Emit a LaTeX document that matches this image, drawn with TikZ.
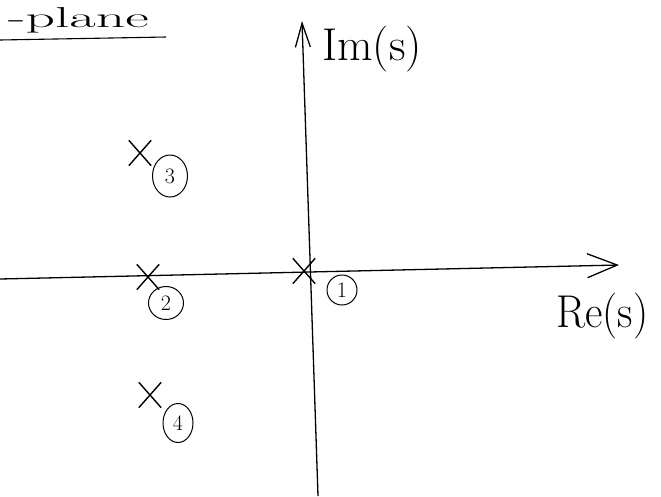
\documentclass[tikz,border=0pt]{standalone}
\usetikzlibrary{shapes.misc,shapes.geometric,arrows.meta}
\begin{document}
\begin{tikzpicture}[x=1pt,y=-1pt,
  haxis/.style={line width=1.3pt,-{Straight Barb[length=30pt,width=24pt,line width=1.3pt]}},
  vaxis/.style={line width=1.3pt,-{Straight Barb[length=24pt,width=15pt,line width=1.3pt]}},
  pole/.style={cross out,draw,line width=1.4pt,minimum width=21pt,minimum height=24pt,inner sep=0pt},
  num/.style={ellipse,draw,line width=1pt,inner sep=0pt,font=\fontsize{22}{24}\selectfont},
  hand/.style={font=\fontsize{46}{50}\selectfont,inner sep=0pt}]
\useasboundingbox (0,0) rectangle (661,496);
% axes
\coordinate (xl) at (0,279);
\coordinate (xr) at (619,265);
\coordinate (yb) at (318,496);
\coordinate (yt) at (302,21);
\draw[haxis] (xl) -- (xr);
\draw[vaxis] (yb) -- (yt);
% title
\node[inner sep=0pt,anchor=base west] (title) at (8,27) {\scalebox{2.4}[1.2]{\fontsize{24}{26}\selectfont -plane}};
\coordinate (ul) at (0,40);
\coordinate (ur) at (166,37);
\draw[line width=1.1pt] (ul) -- (ur);
% axis labels
\node[hand,anchor=base west] (im) at (322,60) {Im(s)};
\node[hand,anchor=base west] (re) at (556,327) {\scalebox{0.93}[1]{Re(s)}};
% poles
\node[pole] (p1) at (304,271) {};
\node[pole] (p2) at (148,277) {};
\node[pole] (p3) at (140,153) {};
\node[pole] (p4) at (150,395) {};
% labels
\node[num,minimum width=30pt,minimum height=30pt] (n1) at (342,290) {1};
\node[num,minimum width=35pt,minimum height=33pt] (n2) at (166,303) {2};
\node[num,minimum width=35pt,minimum height=42pt] (n3) at (170,176) {3};
\node[num,minimum width=30pt,minimum height=39pt] (n4) at (178,423) {4};
\end{tikzpicture}
\end{document}
